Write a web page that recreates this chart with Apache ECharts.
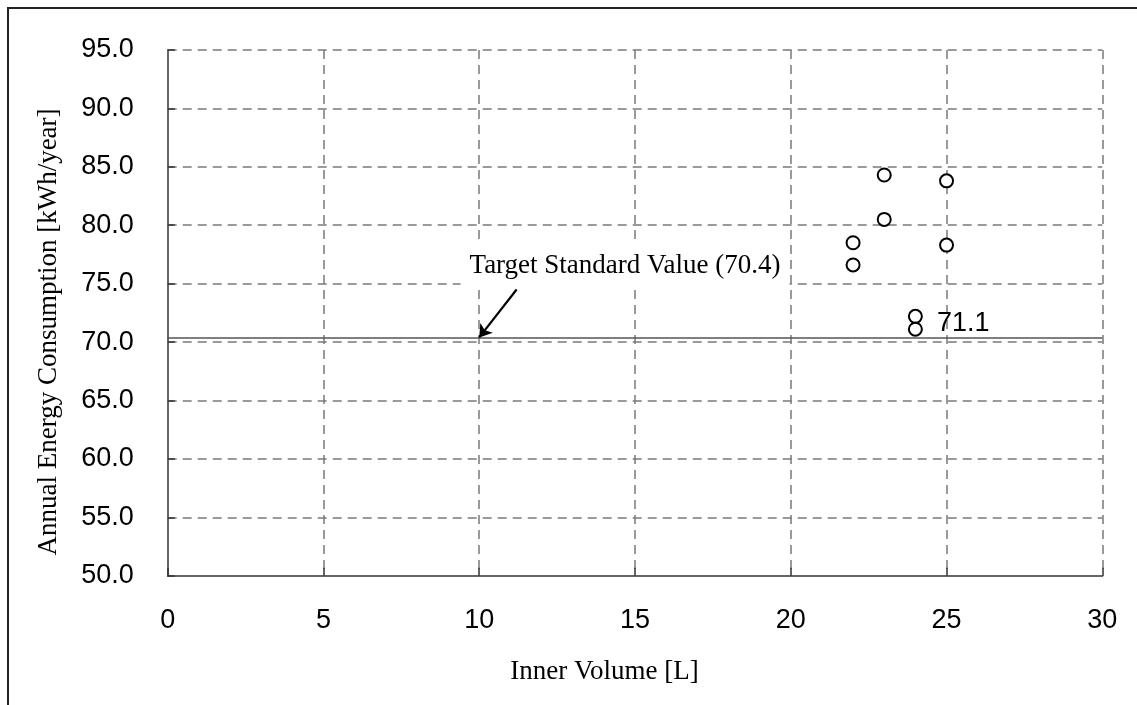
<!DOCTYPE html>
<html>
<head>
<meta charset="utf-8">
<script src="https://cdn.jsdelivr.net/npm/echarts@6/dist/echarts.min.js"></script>
<style>
  html, body { margin: 0; padding: 0; background: #fff; }
  #chart { width: 1137px; height: 705px; }
</style>
</head>
<body>
<div id="chart"></div>
<script>
// Inner volume [L] and annual energy consumption [kWh/year] of each model
const volume      = [22, 22, 23, 23, 24, 24, 25, 25];
const consumption = [78.5, 76.6, 84.3, 80.5, 72.2, 71.1, 83.8, 78.3];
const labeledIndex = 5;          // the point whose value is written beside it
const targetValue = 70.4;        // target standard value

const xTicks = [0, 5, 10, 15, 20, 25, 30];
const yTicks = [50, 55, 60, 65, 70, 75, 80, 85, 90, 95];

const sans  = '"Liberation Sans", Arial, sans-serif';
const serif = '"Liberation Serif", "Times New Roman", serif';

const points = volume.map((v, i) => {
  const item = { value: [v, consumption[i]] };
  if (i === labeledIndex) {
    item.label = {
      show: true,
      position: 'right',
      distance: 14,
      offset: [0, -6],
      formatter: consumption[i].toFixed(1),
      fontFamily: sans,
      fontSize: 27,
      color: '#000'
    };
  }
  return item;
});

const grid = { left: 167.7, right: 34.7, top: 50, bottom: 129.3 };

const chart = echarts.init(document.getElementById('chart'), null, { renderer: 'canvas' });

chart.setOption({
  backgroundColor: '#fff',
  animation: false,
  grid: grid,
  xAxis: {
    type: 'value',
    min: xTicks[0],
    max: xTicks[xTicks.length - 1],
    interval: 5,
    axisLine: { show: true, onZero: false, lineStyle: { color: '#666', width: 2 } },
    axisTick: { show: true, inside: true, length: 8, lineStyle: { color: '#333', width: 1.5 } },
    axisLabel: {
      margin: 31,
      fontFamily: sans,
      fontSize: 27,
      lineHeight: 27,
      color: '#000',
      formatter: v => String(v)
    },
    splitLine: { show: true, lineStyle: { color: '#7a7a7a', width: 1.5, type: [9, 6] } }
  },
  yAxis: {
    type: 'value',
    min: yTicks[0],
    max: yTicks[yTicks.length - 1],
    interval: 5,
    axisLine: { show: true, onZero: false, lineStyle: { color: '#666', width: 2 } },
    axisTick: { show: true, inside: true, length: 7, lineStyle: { color: '#333', width: 1.5 } },
    axisLabel: {
      margin: 34,
      fontFamily: sans,
      fontSize: 27,
      color: '#000',
      padding: [10, 0, 0, 0],
      formatter: v => v.toFixed(1)
    },
    splitLine: { show: true, lineStyle: { color: '#7a7a7a', width: 1.5, type: [9, 6] } }
  },
  series: [
    {
      // target standard line across the plot
      type: 'scatter',
      data: [],
      silent: true,
      z: 3,
      markLine: {
        silent: true,
        symbol: ['none', 'none'],
        label: { show: false },
        lineStyle: { color: '#555', width: 1.5, type: 'solid' },
        data: [{ yAxis: targetValue }]
      }
    },
    {
      // callout: label text and arrow pointing at the target line
      type: 'scatter',
      data: [],
      silent: true,
      z: 6,
      markLine: {
        silent: true,
        symbol: ['none', 'arrow'],
        symbolSize: 12,
        label: { show: false },
        lineStyle: { color: '#000', width: 2.2, type: 'solid' },
        itemStyle: { color: '#000' },
        data: [[{ coord: [11.2, 74.5] }, { coord: [10, targetValue] }]]
      },
      markPoint: {
        silent: true,
        symbol: 'rect',
        symbolSize: 1,
        itemStyle: { color: 'rgba(0,0,0,0)' },
        label: {
          show: true,
          position: 'inside',
          formatter: 'Target Standard Value (' + targetValue.toFixed(1) + ')',
          fontFamily: serif,
          fontSize: 27,
          lineHeight: 28,
          color: '#000',
          backgroundColor: '#fff',
          padding: [7, 9]
        },
        data: [{ coord: [14.68, 76.5] }]
      }
    },
    {
      type: 'scatter',
      z: 8,
      symbol: 'circle',
      symbolSize: 13,
      itemStyle: { color: '#fff', borderColor: '#000', borderWidth: 2, opacity: 1 },
      label: { color: '#000' },
      data: points
    }
  ],
  graphic: [
    {
      type: 'rect',
      silent: true,
      z: 100,
      shape: { x: 8, y: 8, width: 1200, height: 800 },
      style: { fill: 'none', stroke: '#222', lineWidth: 2 }
    },
    {
      type: 'text',
      silent: true,
      z: 100,
      x: 604.5,
      y: 672,
      style: {
        text: 'Inner Volume [L]',
        font: '27px ' + serif,
        fill: '#000',
        align: 'center',
        verticalAlign: 'middle'
      }
    },
    {
      type: 'text',
      silent: true,
      z: 100,
      x: 49,
      y: 332,
      rotation: Math.PI / 2,
      style: {
        text: 'Annual Energy Consumption [kWh/year]',
        font: '27px ' + serif,
        fill: '#000',
        align: 'center',
        verticalAlign: 'middle'
      }
    }
  ]
});
</script>
</body>
</html>
